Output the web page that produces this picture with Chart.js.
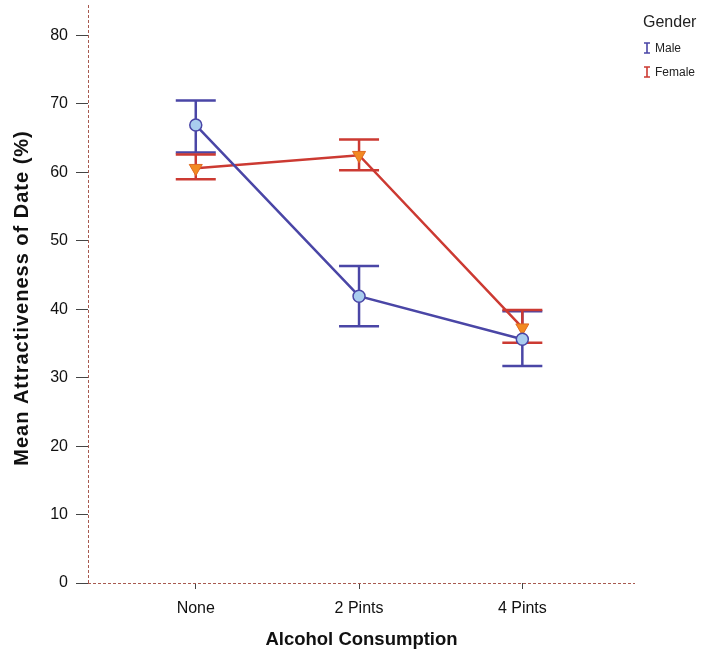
<!DOCTYPE html>
<html>
<head>
<meta charset="utf-8">
<script src="https://cdn.jsdelivr.net/npm/chart.js@4/dist/chart.umd.min.js"></script>
<style>
  body { margin: 0; background: #fff; }
  #wrap { width: 711px; height: 655px; position: relative; }
</style>
</head>
<body>
<div id="wrap"><canvas id="chart"></canvas></div>
<script>
// chart data
const categories = ["None", "2 Pints", "4 Pints"];
const yTicks = [0, 10, 20, 30, 40, 50, 60, 70, 80];
const maleMean = [66.9, 41.9, 35.6];
const maleLow = [62.9, 37.5, 31.7];
const maleHigh = [70.5, 46.3, 39.7];
const femaleMean = [60.6, 62.5, 37.3];
const femaleLow = [59.0, 60.3, 35.1];
const femaleHigh = [62.6, 64.8, 39.9];

const blue = '#4a46a6';
const red = '#cc3a32';
const font = "'Liberation Sans', Arial, sans-serif";

function points(vals){
    return vals.map((v, i) => ({ x: i, y: v }));
}

// dashed axis lines + error bars, under the lines
const errorBars = {
    id: 'errorBars',
    beforeDatasetsDraw(chart){
        const ctx = chart.ctx;
        const x = chart.scales.x, y = chart.scales.y;
        const a = chart.chartArea;
        ctx.save();
        ctx.strokeStyle = '#a85a50';
        ctx.lineWidth = 1;
        ctx.setLineDash([3, 2]);
        ctx.beginPath();
        ctx.moveTo(a.left + 0.5, 5); ctx.lineTo(a.left + 0.5, a.bottom);
        ctx.moveTo(a.left, a.bottom + 0.5); ctx.lineTo(a.right, a.bottom + 0.5);
        ctx.stroke();
        ctx.restore();
        chart.data.datasets.forEach(ds => {
            ctx.save();
            ctx.strokeStyle = ds.borderColor;
            ctx.lineWidth = 2.5;
            ds.errLow.forEach((lo, i) => {
                const px = x.getPixelForValue(i);
                const y1 = y.getPixelForValue(lo);
                const y2 = y.getPixelForValue(ds.errHigh[i]);
                ctx.beginPath();
                ctx.moveTo(px, y1); ctx.lineTo(px, y2);
                ctx.moveTo(px - 20, y1); ctx.lineTo(px + 20, y1);
                ctx.moveTo(px - 20, y2); ctx.lineTo(px + 20, y2);
                ctx.stroke();
            });
            ctx.restore();
        });
    }
};

// legend in the top right corner and the y title
const extras = {
    id: 'extras',
    afterDraw(chart){
        const ctx = chart.ctx;
        ctx.save();
        ctx.fillStyle = '#222';
        ctx.font = '16px ' + font;
        ctx.textBaseline = 'alphabetic';
        ctx.fillText('Gender', 643, 27);
        const items = [['Male', blue, 48], ['Female', red, 72]];
        items.forEach(it => {
            const cy = it[2];
            ctx.strokeStyle = it[1];
            ctx.lineWidth = 1.6;
            ctx.beginPath();
            ctx.moveTo(647, cy - 5); ctx.lineTo(647, cy + 5);
            ctx.moveTo(644, cy - 5); ctx.lineTo(650, cy - 5);
            ctx.moveTo(644, cy + 5); ctx.lineTo(650, cy + 5);
            ctx.stroke();
            ctx.fillStyle = '#222';
            ctx.font = '12px ' + font;
            ctx.textBaseline = 'middle';
            ctx.fillText(it[0], 655, cy + 1);
        });
        ctx.translate(22, 298);
        ctx.rotate(-Math.PI / 2);
        ctx.font = 'bold 20px ' + font;
        ctx.letterSpacing = '1px';
        ctx.textAlign = 'center';
        ctx.textBaseline = 'middle';
        ctx.fillStyle = '#111';
        ctx.fillText('Mean Attractiveness of Date (%)', 0, 0);
        ctx.restore();
    }
};

new Chart(document.getElementById('chart'), {
    type: 'line',
    data: {
        datasets: [{
            label: 'Male',
            data: points(maleMean),
            errLow: maleLow,
            errHigh: maleHigh,
            borderColor: blue,
            borderWidth: 2.5,
            backgroundColor: '#a9cdef',
            pointBackgroundColor: '#a9cdef',
            pointBorderColor: blue,
            pointBorderWidth: 1.5,
            pointRadius: 6,
            pointStyle: 'circle'
        }, {
            label: 'Female',
            data: points(femaleMean),
            errLow: femaleLow,
            errHigh: femaleHigh,
            borderColor: red,
            borderWidth: 2.5,
            backgroundColor: '#f28a22',
            pointBackgroundColor: '#f28a22',
            pointBorderColor: '#e06a20',
            pointBorderWidth: 1,
            pointRadius: 7.5,
            pointStyle: 'triangle',
            pointRotation: 180
        }]
    },
    options: {
        responsive: true,
        maintainAspectRatio: false,
        animation: false,
        layout: { padding: { top: 0, right: 76, left: 0, bottom: 0 } },
        plugins: { legend: { display: false }, tooltip: { enabled: false } },
        scales: {
            x: {
                type: 'linear',
                min: -0.66,
                max: 2.69,
                afterBuildTicks: s => { s.ticks = categories.map((c, i) => ({ value: i })); },
                afterFit: s => { s.height = 72; },
                ticks: {
                    callback: v => categories[v],
                    color: '#111',
                    font: { family: font, size: 16 },
                    padding: 10
                },
                grid: { drawOnChartArea: false, drawTicks: true, tickLength: 6, color: '#444' },
                border: { display: false },
                title: {
                    display: true,
                    text: 'Alcohol Consumption',
                    color: '#111',
                    font: { family: font, size: 18.5, weight: 'bold' },
                    padding: { top: 2 }
                }
            },
            y: {
                min: 0,
                max: 82.6,
                afterBuildTicks: s => { s.ticks = yTicks.map(v => ({ value: v })); },
                afterFit: s => { s.width = 88; },
                ticks: {
                    color: '#111',
                    font: { family: font, size: 16 },
                    padding: 8
                },
                grid: { drawOnChartArea: false, drawTicks: true, tickLength: 12, color: '#444' },
                border: { display: false },
                title: { display: false }
            }
        }
    },
    plugins: [errorBars, extras]
});
</script>
</body>
</html>
